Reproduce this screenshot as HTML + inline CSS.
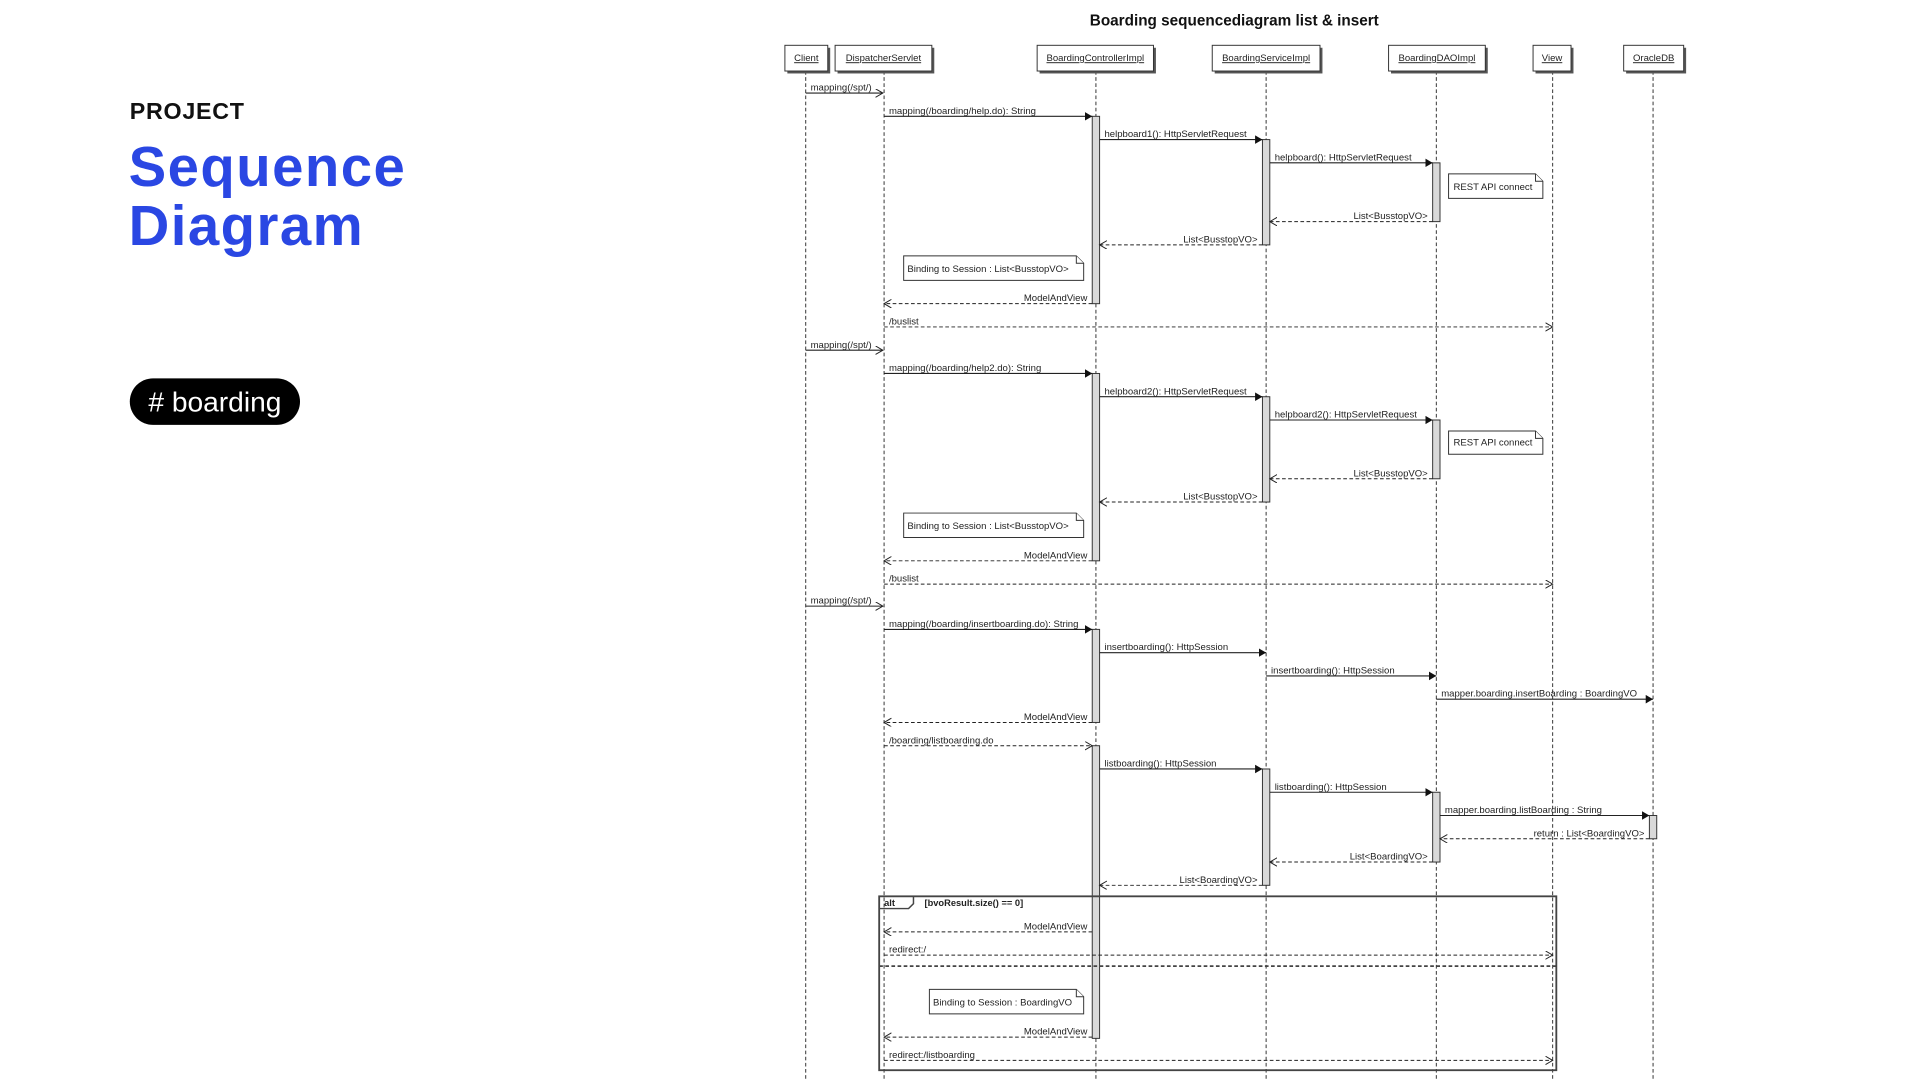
<!DOCTYPE html>
<html><head><meta charset="utf-8"><style>
html,body{margin:0;padding:0;background:#fff;}
svg{display:block;}
text{font-family:"Liberation Sans",sans-serif;}
.l{font-size:7.8px;fill:#222;}
.ll{stroke:#333;stroke-width:.8;stroke-dasharray:3,2;fill:none;}
.s{stroke:#222;stroke-width:.9;fill:none;}
.d{stroke:#222;stroke-width:.8;stroke-dasharray:3,2;fill:none;}
.act{fill:#d9d9d9;stroke:#333;stroke-width:.8;}
.box{fill:#fff;stroke:#333;stroke-width:.8;}
.sh{fill:#555;}
</style></head><body>
<svg width="1920" height="1080" viewBox="0 0 1568 882">
<defs>
<marker id="f" markerWidth="8" markerHeight="8" refX="6" refY="3.5" orient="auto" markerUnits="userSpaceOnUse"><path d="M0,0 L6,3.5 L0,7 z" fill="#111"/></marker>
<marker id="o" markerWidth="8" markerHeight="8" refX="6" refY="3.5" orient="auto" markerUnits="userSpaceOnUse"><path d="M0,0 L6,3.5 L0,7" fill="none" stroke="#222" stroke-width=".8"/></marker>
</defs>
<!-- left -->
<text x="106" y="97" font-size="19" font-weight="bold" fill="#111" letter-spacing="0.6">PROJECT</text>
<text x="105" y="152" font-size="46" font-weight="bold" fill="#2a47e3" letter-spacing="1.2">Sequence</text>
<text x="105" y="200" font-size="46" font-weight="bold" fill="#2a47e3" letter-spacing="1.2">Diagram</text>
<rect x="106" y="309" width="139" height="38" rx="19" fill="#000"/>
<text x="175.5" y="336" font-size="23" fill="#fff" text-anchor="middle"># boarding</text>
<!-- title -->
<text x="1008" y="21" font-size="12.5" font-weight="bold" text-anchor="middle" fill="#111">Boarding sequencediagram list &amp; insert</text>
<!-- lifelines -->
<g class="ll">
<line x1="658" y1="58" x2="658" y2="882"/><line x1="722" y1="58" x2="722" y2="882"/>
<line x1="895" y1="58" x2="895" y2="882"/><line x1="1034" y1="58" x2="1034" y2="882"/>
<line x1="1173" y1="58" x2="1173" y2="882"/><line x1="1268" y1="58" x2="1268" y2="882"/>
<line x1="1350" y1="58" x2="1350" y2="882"/>
</g>
<!-- heads -->
<g>
<rect class="sh" x="643" y="39" width="35" height="21"/><rect class="box" x="641" y="37" width="35" height="21"/>
<rect class="sh" x="684" y="39" width="79" height="21"/><rect class="box" x="682" y="37" width="79" height="21"/>
<rect class="sh" x="849" y="39" width="95" height="21"/><rect class="box" x="847" y="37" width="95" height="21"/>
<rect class="sh" x="992" y="39" width="88" height="21"/><rect class="box" x="990" y="37" width="88" height="21"/>
<rect class="sh" x="1136" y="39" width="79" height="21"/><rect class="box" x="1134" y="37" width="79" height="21"/>
<rect class="sh" x="1254" y="39" width="31" height="21"/><rect class="box" x="1252" y="37" width="31" height="21"/>
<rect class="sh" x="1328" y="39" width="49" height="21"/><rect class="box" x="1326" y="37" width="49" height="21"/>
</g>
<g class="l" text-anchor="middle" text-decoration="underline">
<text x="658.5" y="50">Client</text><text x="721.5" y="50">DispatcherServlet</text>
<text x="894.5" y="50">BoardingControllerImpl</text><text x="1034" y="50">BoardingServiceImpl</text>
<text x="1173.5" y="50">BoardingDAOImpl</text><text x="1267.5" y="50">View</text><text x="1350.5" y="50">OracleDB</text>
</g>
<!-- activations -->
<rect class="act" x="892" y="95" width="6" height="153"/>
<rect class="act" x="1031" y="114" width="6" height="86"/>
<rect class="act" x="1170" y="133" width="6" height="48"/>
<rect class="act" x="892" y="305" width="6" height="153"/>
<rect class="act" x="1031" y="324" width="6" height="86"/>
<rect class="act" x="1170" y="343" width="6" height="48"/>
<rect class="act" x="892" y="514" width="6" height="76"/>
<rect class="act" x="892" y="609" width="6" height="239"/>
<rect class="act" x="1031" y="628" width="6" height="95"/>
<rect class="act" x="1170" y="647" width="6" height="57"/>
<rect class="act" x="1347" y="666" width="6" height="19"/>
<!-- notes -->
<g>
<path class="box" d="M1183,142 H1254 L1260,148 V162 H1183 Z"/><path class="box" d="M1254,142 V148 H1260"/>
<text class="l" x="1187" y="155">REST API connect</text>
<path class="box" d="M1183,352 H1254 L1260,358 V371 H1183 Z"/><path class="box" d="M1254,352 V358 H1260"/>
<text class="l" x="1187" y="364">REST API connect</text>
<path class="box" d="M738,209 H879 L885,215 V229 H738 Z"/><path class="box" d="M879,209 V215 H885"/>
<text class="l" x="741" y="222">Binding to Session : List&lt;BusstopVO&gt;</text>
<path class="box" d="M738,419 H879 L885,425 V439 H738 Z"/><path class="box" d="M879,419 V425 H885"/>
<text class="l" x="741" y="432">Binding to Session : List&lt;BusstopVO&gt;</text>
<path class="box" d="M759,808 H879 L885,814 V828 H759 Z"/><path class="box" d="M879,808 V814 H885"/>
<text class="l" x="762" y="821">Binding to Session : BoardingVO</text>
</g>
<!-- messages -->
<g>
<line class="s" x1="658" y1="76" x2="721" y2="76" marker-end="url(#o)"/>
<line class="s" x1="722" y1="95" x2="892" y2="95" marker-end="url(#f)"/>
<line class="s" x1="898" y1="114" x2="1031" y2="114" marker-end="url(#f)"/>
<line class="s" x1="1037" y1="133" x2="1170" y2="133" marker-end="url(#f)"/>
<line class="d" x1="1170" y1="181" x2="1037" y2="181" marker-end="url(#o)"/>
<line class="d" x1="1031" y1="200" x2="898" y2="200" marker-end="url(#o)"/>
<line class="d" x1="892" y1="248" x2="722" y2="248" marker-end="url(#o)"/>
<line class="d" x1="722" y1="267" x2="1268" y2="267" marker-end="url(#o)"/>

<line class="s" x1="658" y1="286" x2="721" y2="286" marker-end="url(#o)"/>
<line class="s" x1="722" y1="305" x2="892" y2="305" marker-end="url(#f)"/>
<line class="s" x1="898" y1="324" x2="1031" y2="324" marker-end="url(#f)"/>
<line class="s" x1="1037" y1="343" x2="1170" y2="343" marker-end="url(#f)"/>
<line class="d" x1="1170" y1="391" x2="1037" y2="391" marker-end="url(#o)"/>
<line class="d" x1="1031" y1="410" x2="898" y2="410" marker-end="url(#o)"/>
<line class="d" x1="892" y1="458" x2="722" y2="458" marker-end="url(#o)"/>
<line class="d" x1="722" y1="477" x2="1268" y2="477" marker-end="url(#o)"/>

<line class="s" x1="658" y1="495" x2="721" y2="495" marker-end="url(#o)"/>
<line class="s" x1="722" y1="514" x2="892" y2="514" marker-end="url(#f)"/>
<line class="s" x1="898" y1="533" x2="1034" y2="533" marker-end="url(#f)"/>
<line class="s" x1="1034" y1="552" x2="1173" y2="552" marker-end="url(#f)"/>
<line class="s" x1="1173" y1="571" x2="1350" y2="571" marker-end="url(#f)"/>
<line class="d" x1="892" y1="590" x2="722" y2="590" marker-end="url(#o)"/>
<line class="d" x1="722" y1="609" x2="892" y2="609" marker-end="url(#o)"/>
<line class="s" x1="898" y1="628" x2="1031" y2="628" marker-end="url(#f)"/>
<line class="s" x1="1037" y1="647" x2="1170" y2="647" marker-end="url(#f)"/>
<line class="s" x1="1176" y1="666" x2="1347" y2="666" marker-end="url(#f)"/>
<line class="d" x1="1347" y1="685" x2="1176" y2="685" marker-end="url(#o)"/>
<line class="d" x1="1170" y1="704" x2="1037" y2="704" marker-end="url(#o)"/>
<line class="d" x1="1031" y1="723" x2="898" y2="723" marker-end="url(#o)"/>
<line class="d" x1="892" y1="761" x2="722" y2="761" marker-end="url(#o)"/>
<line class="d" x1="722" y1="780" x2="1268" y2="780" marker-end="url(#o)"/>
<line class="d" x1="892" y1="847" x2="722" y2="847" marker-end="url(#o)"/>
<line class="d" x1="722" y1="866" x2="1268" y2="866" marker-end="url(#o)"/>
</g>
<g class="l">
<text x="662" y="74">mapping(/spt/)</text>
<text x="726" y="93">mapping(/boarding/help.do): String</text>
<text x="902" y="112">helpboard1(): HttpServletRequest</text>
<text x="1041" y="131">helpboard(): HttpServletRequest</text>
<text x="726" y="265">/buslist</text>
<text x="662" y="284">mapping(/spt/)</text>
<text x="726" y="303">mapping(/boarding/help2.do): String</text>
<text x="902" y="322">helpboard2(): HttpServletRequest</text>
<text x="1041" y="341">helpboard2(): HttpServletRequest</text>
<text x="726" y="475">/buslist</text>
<text x="662" y="493">mapping(/spt/)</text>
<text x="726" y="512">mapping(/boarding/insertboarding.do): String</text>
<text x="902" y="531">insertboarding(): HttpSession</text>
<text x="1038" y="550">insertboarding(): HttpSession</text>
<text x="1177" y="569">mapper.boarding.insertBoarding : BoardingVO</text>
<text x="726" y="607">/boarding/listboarding.do</text>
<text x="902" y="626">listboarding(): HttpSession</text>
<text x="1041" y="645">listboarding(): HttpSession</text>
<text x="1180" y="664">mapper.boarding.listBoarding : String</text>
<text x="726" y="778">redirect:/</text>
<text x="726" y="864">redirect:/listboarding</text>
</g>
<g class="l" text-anchor="end">
<text x="1166" y="179">List&lt;BusstopVO&gt;</text>
<text x="1027" y="198">List&lt;BusstopVO&gt;</text>
<text x="888" y="246">ModelAndView</text>
<text x="1166" y="389">List&lt;BusstopVO&gt;</text>
<text x="1027" y="408">List&lt;BusstopVO&gt;</text>
<text x="888" y="456">ModelAndView</text>
<text x="888" y="588">ModelAndView</text>
<text x="1343" y="683">return : List&lt;BoardingVO&gt;</text>
<text x="1166" y="702">List&lt;BoardingVO&gt;</text>
<text x="1027" y="721">List&lt;BoardingVO&gt;</text>
<text x="888" y="759">ModelAndView</text>
<text x="888" y="845">ModelAndView</text>
</g>
<!-- alt frame -->
<rect x="718" y="732" width="553" height="142" fill="none" stroke="#444" stroke-width="1.5"/>
<path d="M718,742 H742 L746,738 V732" fill="none" stroke="#444" stroke-width="1.2"/>
<text x="722" y="740" font-size="7.6" font-weight="bold" fill="#222">alt</text>
<text x="755" y="740" font-size="7.6" font-weight="bold" fill="#222">[bvoResult.size() == 0]</text>
<line x1="718" y1="789" x2="1271" y2="789" stroke="#444" stroke-width="1.5" stroke-dasharray="3,2"/>
</svg>
</body></html>
